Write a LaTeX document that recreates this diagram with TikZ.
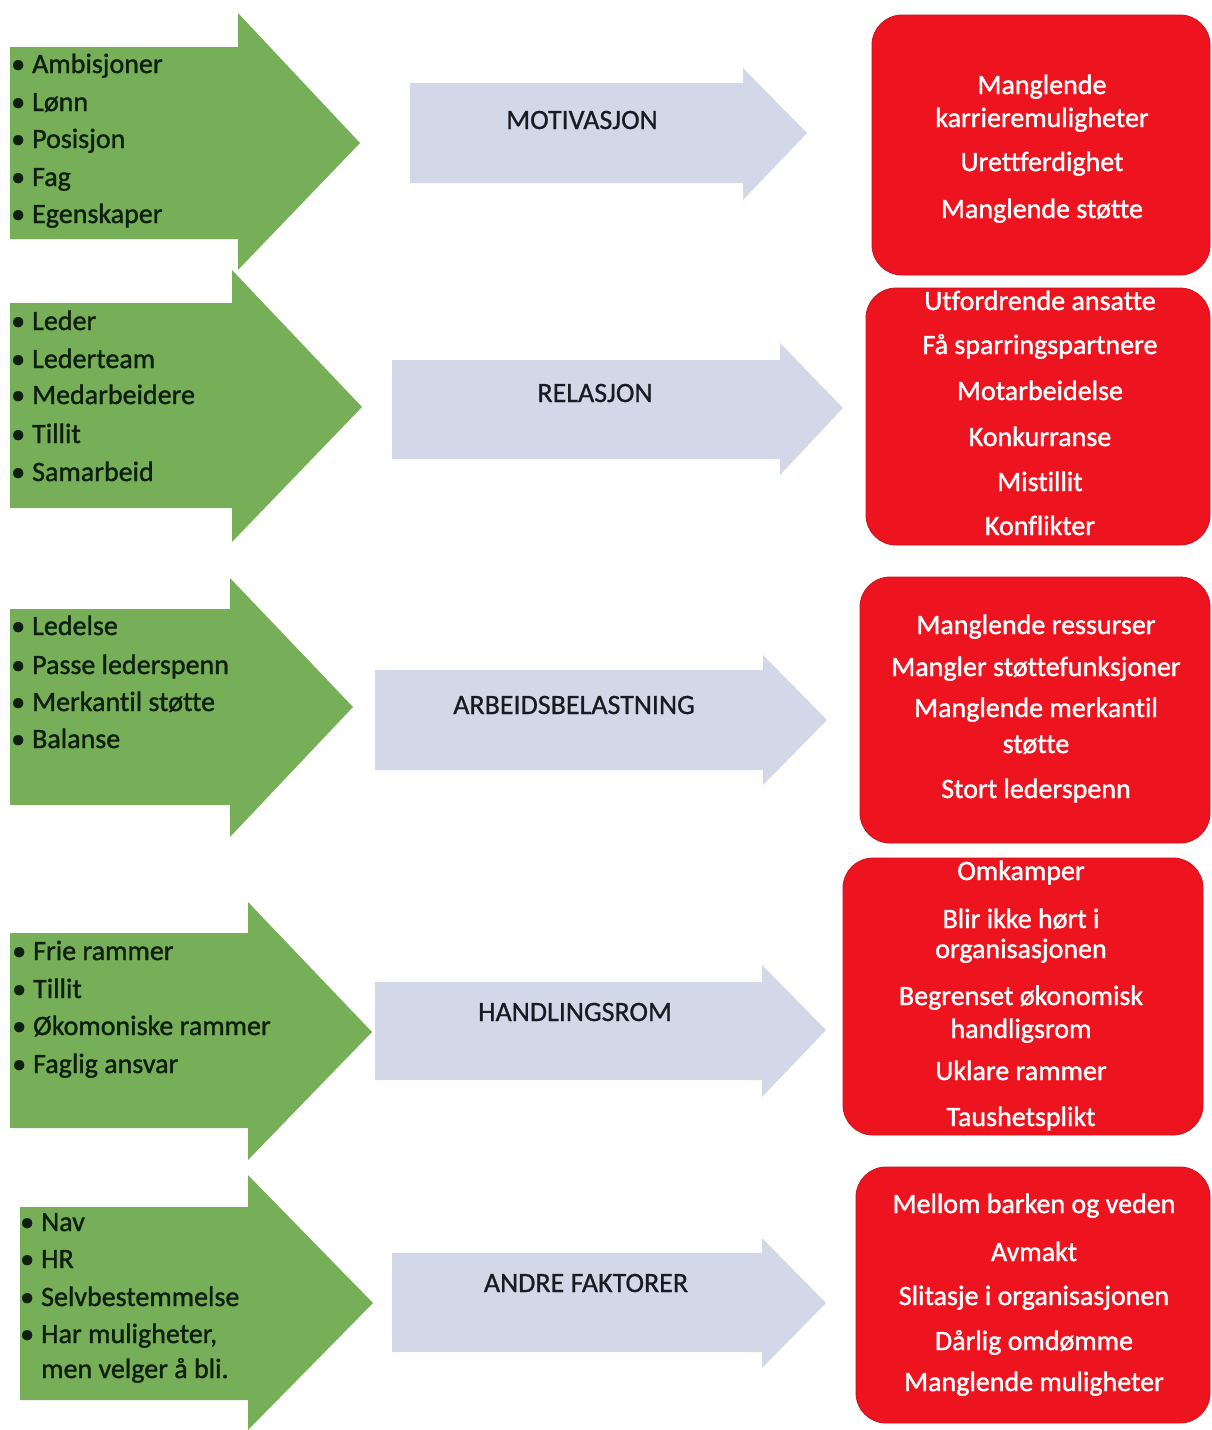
\documentclass[tikz,border=0pt]{standalone}
\usepackage{fontspec}
\setmainfont{Carlito}[Ligatures=NoCommon]
\newfontfamily\heavyfont{Carlito}[Ligatures=NoCommon, FakeBold=1.3]
\newfontfamily\midfont{Carlito}[Ligatures=NoCommon, FakeBold=0.8]
\definecolor{garrowc}{HTML}{77AF59}
\definecolor{barrowc}{HTML}{D3D8E9}
\definecolor{rboxc}{HTML}{EE141F}
\definecolor{gtextc}{HTML}{102010}
\definecolor{btextc}{HTML}{1A1A22}
\tikzset{
  garrow/.style={fill=garrowc, draw=none},
  barrow/.style={fill=barrowc, draw=none},
  redbox/.style={fill=rboxc, draw=rboxc!85!black, line width=0.8pt, rounded corners=30pt, inner sep=0pt},
  gtext/.style={anchor=base west, inner sep=0pt, text=gtextc, font=\heavyfont\fontsize{28}{32}\selectfont},
  btext/.style={anchor=base, inner sep=0pt, text=btextc, font=\midfont\fontsize{28}{32}\selectfont},
  rtext/.style={anchor=base, inner sep=0pt, text=white, font=\heavyfont\fontsize{28}{32}\selectfont},
}
\newcommand{\bul}{\makebox[21pt][l]{•}}
\begin{document}
\begin{tikzpicture}[x=1pt,y=-1pt]
\useasboundingbox (0,0) rectangle (1211,1430);
\fill[white] (0,0) rectangle (1211,1430);

% ---------- green arrows ----------
\fill[garrow] (10,47) -- (238,47) -- (238,13) -- (360,143) -- (238,270) -- (238,239) -- (10,239) -- cycle;
\fill[garrow] (10,303) -- (232,303) -- (232,270) -- (362,407) -- (232,542) -- (232,508) -- (10,508) -- cycle;
\fill[garrow] (10,609) -- (230,609) -- (230,578) -- (353,707) -- (230,837) -- (230,805) -- (10,805) -- cycle;
\fill[garrow] (10,933) -- (248,933) -- (248,902) -- (372,1032) -- (248,1160) -- (248,1128) -- (10,1128) -- cycle;
\fill[garrow] (20,1207) -- (248,1207) -- (248,1175) -- (373,1303) -- (248,1430) -- (248,1400) -- (20,1400) -- cycle;

% ---------- blue arrows ----------
\fill[barrow] (410,83) -- (743,83) -- (743,68) -- (807,133) -- (743,200) -- (743,183) -- (410,183) -- cycle;
\fill[barrow] (392,360) -- (780,360) -- (780,343) -- (843,408) -- (780,475) -- (780,459) -- (392,459) -- cycle;
\fill[barrow] (375,670) -- (763,670) -- (763,655) -- (827,720) -- (763,785) -- (763,770) -- (375,770) -- cycle;
\fill[barrow] (375,982) -- (762,982) -- (762,965) -- (826,1030) -- (762,1097) -- (762,1080) -- (375,1080) -- cycle;
\fill[barrow] (392,1253) -- (762,1253) -- (762,1238) -- (826,1303) -- (762,1368) -- (762,1352) -- (392,1352) -- cycle;

% ---------- red boxes ----------
\node[redbox, minimum width=338pt, minimum height=260pt] (r1) at (1041,145) {};
\node[redbox, minimum width=344pt, minimum height=257pt] (r2) at (1038,416.5) {};
\node[redbox, minimum width=350pt, minimum height=266pt] (r3) at (1035,710) {};
\node[redbox, minimum width=360pt, minimum height=277pt] (r4) at (1023,996.5) {};
\node[redbox, minimum width=354pt, minimum height=256pt] (r5) at (1033,1295) {};

% ---------- green texts ----------
\node[gtext] (g1a) at (11,73) {\bul Ambisjoner};
\node[gtext] (g1b) at (11,111) {\bul Lønn};
\node[gtext] (g1c) at (11,148) {\bul Posisjon};
\node[gtext] (g1d) at (11,186) {\bul Fag};
\node[gtext] (g1e) at (11,223) {\bul Egenskaper};

\node[gtext] (g2a) at (11,330) {\bul Leder};
\node[gtext] (g2b) at (11,368) {\bul Lederteam};
\node[gtext] (g2c) at (11,404) {\bul Medarbeidere};
\node[gtext] (g2d) at (11,443) {\bul Tillit};
\node[gtext] (g2e) at (11,481) {\bul Samarbeid};

\node[gtext] (g3a) at (11,635) {\bul Ledelse};
\node[gtext] (g3b) at (11,674) {\bul Passe lederspenn};
\node[gtext] (g3c) at (11,711) {\bul Merkantil støtte};
\node[gtext] (g3d) at (11,748) {\bul Balanse};

\node[gtext] (g4a) at (12,960) {\bul Frie rammer};
\node[gtext] (g4b) at (12,998) {\bul Tillit};
\node[gtext] (g4c) at (12,1035) {\bul Økomoniske rammer};
\node[gtext] (g4d) at (12,1073) {\bul Faglig ansvar};

\node[gtext] (g5a) at (20,1231) {\bul Nav};
\node[gtext] (g5b) at (20,1268) {\bul HR};
\node[gtext] (g5c) at (20,1306) {\bul Selvbestemmelse};
\node[gtext] (g5d) at (20,1343) {\bul Har muligheter,};
\node[gtext] (g5e) at (41,1378) {men velger å bli.};

% ---------- blue texts ----------
\node[btext] (b1) at (582,129) {MOTIVASJON};
\node[btext] (b2) at (595,402) {RELASJON};
\node[btext] (b3) at (574,714) {ARBEIDSBELASTNING};
\node[btext] (b4) at (575,1021) {HANDLINGSROM};
\node[btext] (b5) at (586,1292) {ANDRE FAKTORER};

% ---------- red texts ----------
\node[rtext] (t1a) at (1042,94) {Manglende};
\node[rtext] (t1b) at (1042,127) {karrieremuligheter};
\node[rtext] (t1c) at (1042,171) {Urettferdighet};
\node[rtext] (t1d) at (1042,218) {Manglende støtte};

\node[rtext] (t2a) at (1040,310) {Utfordrende ansatte};
\node[rtext] (t2b) at (1040,354) {Få sparringspartnere};
\node[rtext] (t2c) at (1040,400) {Motarbeidelse};
\node[rtext] (t2d) at (1040,446) {Konkurranse};
\node[rtext] (t2e) at (1040,491) {Mistillit};
\node[rtext] (t2f) at (1040,535) {Konflikter};

\node[rtext] (t3a) at (1036,634) {Manglende ressurser};
\node[rtext] (t3b) at (1036,676) {Mangler støttefunksjoner};
\node[rtext] (t3c) at (1036,717) {Manglende merkantil};
\node[rtext] (t3d) at (1036,753) {støtte};
\node[rtext] (t3e) at (1036,798) {Stort lederspenn};

\node[rtext] (t4a) at (1021,880) {Omkamper};
\node[rtext] (t4b) at (1021,928) {Blir ikke hørt i};
\node[rtext] (t4c) at (1021,958) {organisasjonen};
\node[rtext] (t4d) at (1021,1005) {Begrenset økonomisk};
\node[rtext] (t4e) at (1021,1038) {handligsrom};
\node[rtext] (t4f) at (1021,1080) {Uklare rammer};
\node[rtext] (t4g) at (1021,1126) {Taushetsplikt};

\node[rtext] (t5a) at (1034,1213) {Mellom barken og veden};
\node[rtext] (t5b) at (1034,1261) {Avmakt};
\node[rtext] (t5c) at (1034,1305) {Slitasje i organisasjonen};
\node[rtext] (t5d) at (1034,1350) {Dårlig omdømme};
\node[rtext] (t5e) at (1034,1391) {Manglende muligheter};
\end{tikzpicture}
\end{document}
